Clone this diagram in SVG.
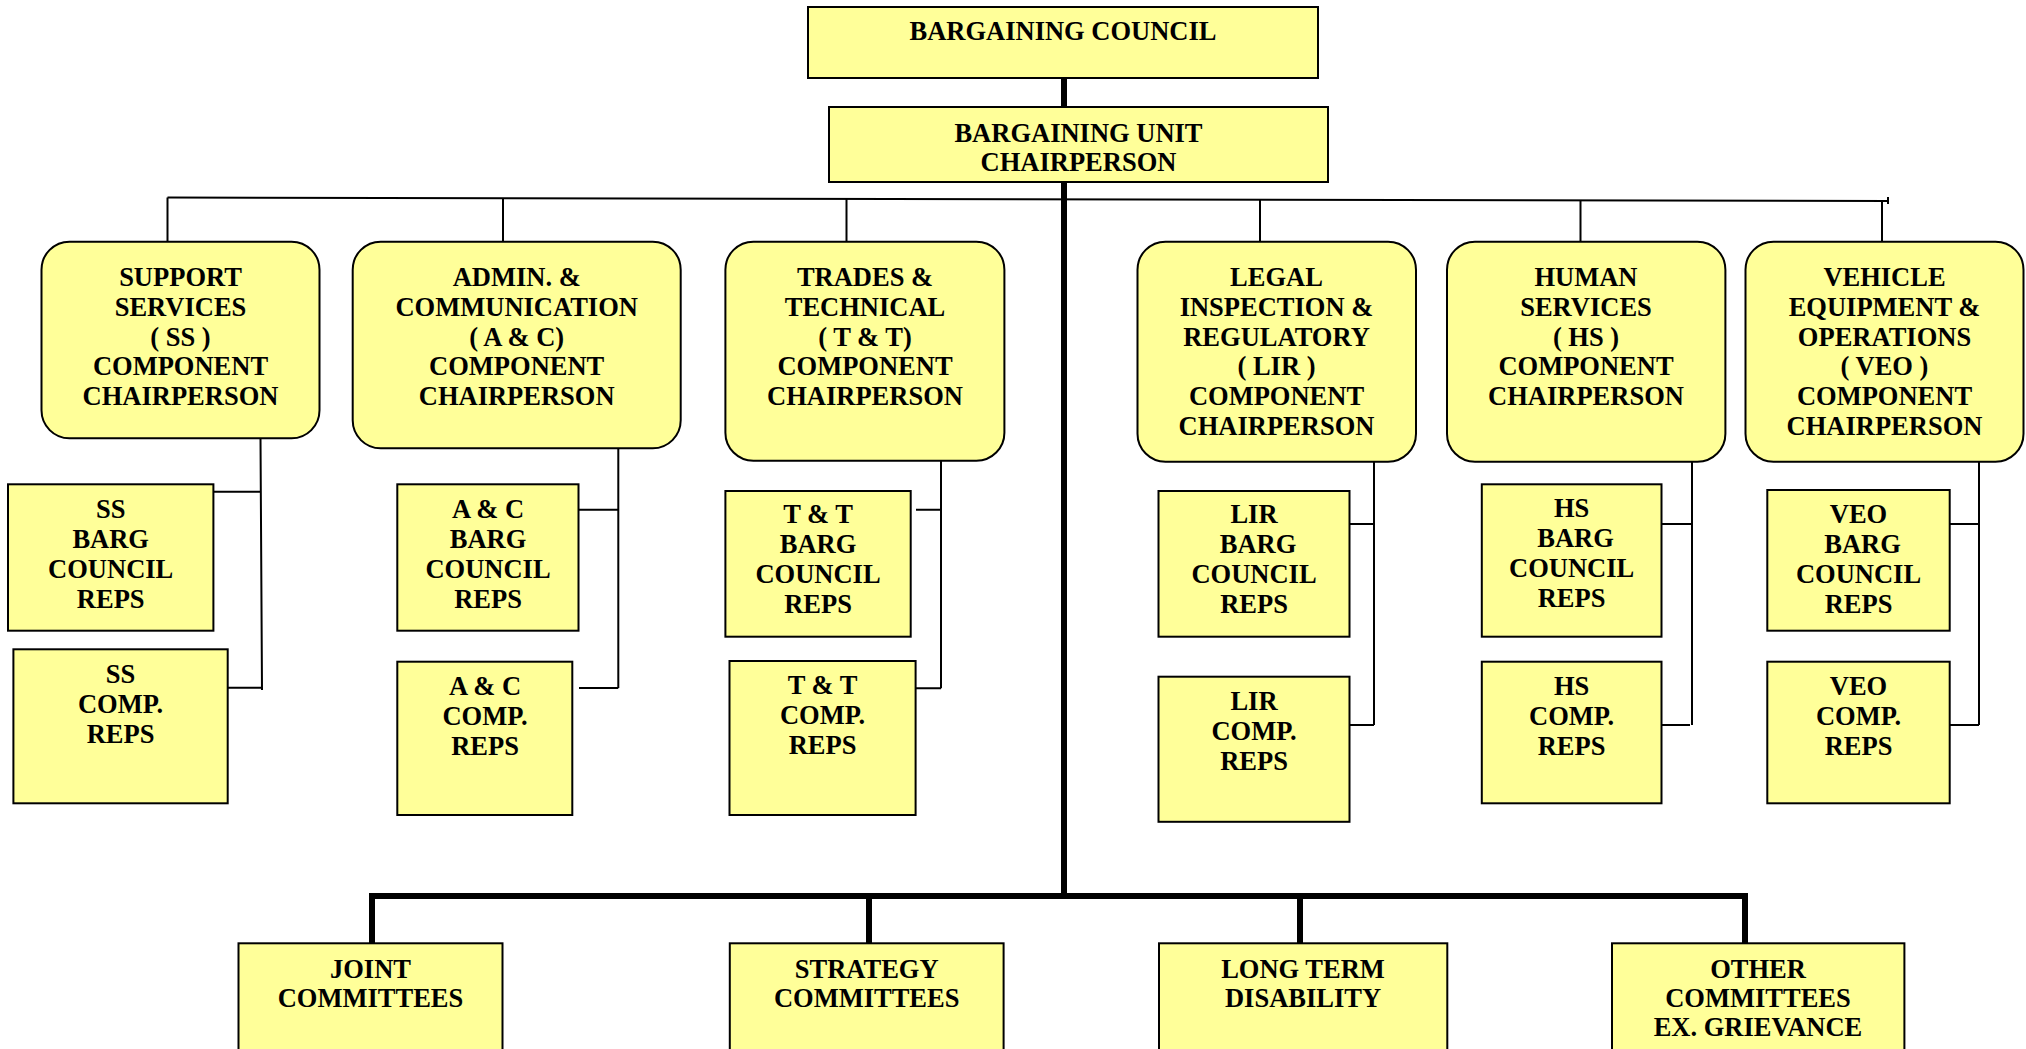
<svg xmlns="http://www.w3.org/2000/svg" width="2026" height="1049" viewBox="0 0 2026 1049">
<style>
.box{fill:#FFFF99;stroke:#000;stroke-width:2}
.t{font-family:"Liberation Serif","Times New Roman",serif;font-weight:bold;font-size:26.5px;text-anchor:middle;fill:#000}
.thin{stroke:#000;stroke-width:2;fill:none}
.thick{stroke:#000;stroke-width:6;fill:none;stroke-linejoin:miter}
</style>
<rect width="2026" height="1049" fill="#fff"/>
<g id="connectors">
<line class="thick" x1="1064" y1="77" x2="1064" y2="896"/>
<path class="thick" d="M372,944 V896 H1745 V944"/>
<line class="thick" x1="869" y1="896" x2="869" y2="944"/>
<line class="thick" x1="1300" y1="896" x2="1300" y2="944"/>
<line class="thin" x1="167.5" y1="197.5" x2="1888" y2="201"/>
<line class="thin" x1="1888" y1="197" x2="1888" y2="204"/>
<line class="thin" x1="167.5" y1="197.5" x2="167.5" y2="242"/>
<line class="thin" x1="503" y1="198" x2="503" y2="242"/>
<line class="thin" x1="846.5" y1="199" x2="846.5" y2="242"/>
<line class="thin" x1="1260" y1="199.5" x2="1260" y2="242"/>
<line class="thin" x1="1580.5" y1="200" x2="1580.5" y2="242"/>
<line class="thin" x1="1882" y1="201" x2="1882" y2="242"/>
<path class="thin" d="M260.5,438 L262,690 M213,491.7 H260.5 M228,687.7 H262"/>
<path class="thin" d="M618.3,448 V688 M578.5,509.7 H618.3 M579,688 H618.3"/>
<path class="thin" d="M941,460.7 V688.3 M916,509.7 H941 M916,688.3 H941"/>
<path class="thin" d="M1374,461.7 V725 M1349.5,524 H1374 M1349.5,725 H1374"/>
<path class="thin" d="M1692,461.7 V725 M1661.5,524 H1692 M1661.5,725 H1690"/>
<path class="thin" d="M1979,461.7 V725 M1949.7,524 H1979 M1949.7,725 H1979"/>
</g>
<g id="bargaining-council">
<rect class="box" x="808" y="7" width="510" height="71"/>
<text class="t" x="1063" y="40">BARGAINING COUNCIL</text>
</g>
<g id="bargaining-unit-chairperson">
<rect class="box" x="829" y="107" width="499" height="75"/>
<text class="t" x="1078.5" y="141.7">BARGAINING UNIT<tspan x="1078.5" dy="29">CHAIRPERSON</tspan></text>
</g>
<g id="ss-chair">
<rect class="box" x="41.5" y="241.7" width="278" height="196.6" rx="28"/>
<text class="t" x="180.5" y="286">SUPPORT<tspan x="180.5" dy="29.8">SERVICES</tspan><tspan x="180.5" dy="29.8">( SS )</tspan><tspan x="180.5" dy="29.8">COMPONENT</tspan><tspan x="180.5" dy="29.8">CHAIRPERSON</tspan></text>
</g>
<g id="ac-chair">
<rect class="box" x="352.7" y="241.7" width="328" height="206.6" rx="28"/>
<text class="t" x="516.7" y="286">ADMIN. &amp;<tspan x="516.7" dy="29.8">COMMUNICATION</tspan><tspan x="516.7" dy="29.8">( A &amp; C)</tspan><tspan x="516.7" dy="29.8">COMPONENT</tspan><tspan x="516.7" dy="29.8">CHAIRPERSON</tspan></text>
</g>
<g id="tt-chair">
<rect class="box" x="725.4" y="241.7" width="279" height="219" rx="28"/>
<text class="t" x="865" y="286">TRADES &amp;<tspan x="865" dy="29.8">TECHNICAL</tspan><tspan x="865" dy="29.8">( T &amp; T)</tspan><tspan x="865" dy="29.8">COMPONENT</tspan><tspan x="865" dy="29.8">CHAIRPERSON</tspan></text>
</g>
<g id="lir-chair">
<rect class="box" x="1137.5" y="241.7" width="278.5" height="220" rx="28"/>
<text class="t" x="1276.5" y="286">LEGAL<tspan x="1276.5" dy="29.8">INSPECTION &amp;</tspan><tspan x="1276.5" dy="29.8">REGULATORY</tspan><tspan x="1276.5" dy="29.8">( LIR )</tspan><tspan x="1276.5" dy="29.8">COMPONENT</tspan><tspan x="1276.5" dy="29.8">CHAIRPERSON</tspan></text>
</g>
<g id="hs-chair">
<rect class="box" x="1447" y="241.7" width="278.4" height="220" rx="28"/>
<text class="t" x="1586" y="286">HUMAN<tspan x="1586" dy="29.8">SERVICES</tspan><tspan x="1586" dy="29.8">( HS )</tspan><tspan x="1586" dy="29.8">COMPONENT</tspan><tspan x="1586" dy="29.8">CHAIRPERSON</tspan></text>
</g>
<g id="veo-chair">
<rect class="box" x="1745.5" y="241.7" width="278" height="220" rx="28"/>
<text class="t" x="1884.5" y="286">VEHICLE<tspan x="1884.5" dy="29.8">EQUIPMENT &amp;</tspan><tspan x="1884.5" dy="29.8">OPERATIONS</tspan><tspan x="1884.5" dy="29.8">( VEO )</tspan><tspan x="1884.5" dy="29.8">COMPONENT</tspan><tspan x="1884.5" dy="29.8">CHAIRPERSON</tspan></text>
</g>
<g id="ss-barg">
<rect class="box" x="8" y="484.3" width="205.4" height="146.4"/>
<text class="t" x="110.7" y="518.3">SS<tspan x="110.7" dy="30">BARG</tspan><tspan x="110.7" dy="30">COUNCIL</tspan><tspan x="110.7" dy="30">REPS</tspan></text>
</g>
<g id="ss-comp">
<rect class="box" x="13.4" y="649.3" width="214.3" height="154"/>
<text class="t" x="120.5" y="683.3">SS<tspan x="120.5" dy="30">COMP.</tspan><tspan x="120.5" dy="30">REPS</tspan></text>
</g>
<g id="ac-barg">
<rect class="box" x="397.3" y="484.3" width="181.2" height="146.4"/>
<text class="t" x="488" y="518">A &amp; C<tspan x="488" dy="30">BARG</tspan><tspan x="488" dy="30">COUNCIL</tspan><tspan x="488" dy="30">REPS</tspan></text>
</g>
<g id="ac-comp">
<rect class="box" x="397.3" y="661.7" width="175" height="153.3"/>
<text class="t" x="485" y="695">A &amp; C<tspan x="485" dy="30">COMP.</tspan><tspan x="485" dy="30">REPS</tspan></text>
</g>
<g id="tt-barg">
<rect class="box" x="725.4" y="491" width="185.3" height="145.7"/>
<text class="t" x="818" y="523.3">T &amp; T<tspan x="818" dy="30">BARG</tspan><tspan x="818" dy="30">COUNCIL</tspan><tspan x="818" dy="30">REPS</tspan></text>
</g>
<g id="tt-comp">
<rect class="box" x="729.5" y="661" width="186.1" height="154"/>
<text class="t" x="822.5" y="694">T &amp; T<tspan x="822.5" dy="30">COMP.</tspan><tspan x="822.5" dy="30">REPS</tspan></text>
</g>
<g id="lir-barg">
<rect class="box" x="1158.5" y="491" width="191" height="145.7"/>
<text class="t" x="1254" y="523">LIR<tspan x="1258" dy="30">BARG</tspan><tspan x="1254" dy="30">COUNCIL</tspan><tspan x="1254" dy="30">REPS</tspan></text>
</g>
<g id="lir-comp">
<rect class="box" x="1158.5" y="676.7" width="191" height="145.1"/>
<text class="t" x="1254" y="710">LIR<tspan x="1254" dy="30">COMP.</tspan><tspan x="1254" dy="30">REPS</tspan></text>
</g>
<g id="hs-barg">
<rect class="box" x="1481.8" y="484.3" width="179.7" height="152.4"/>
<text class="t" x="1571.6" y="517.3">HS<tspan x="1575.6" dy="30">BARG</tspan><tspan x="1571.6" dy="30">COUNCIL</tspan><tspan x="1571.6" dy="30">REPS</tspan></text>
</g>
<g id="hs-comp">
<rect class="box" x="1481.8" y="661.7" width="179.7" height="141.6"/>
<text class="t" x="1571.6" y="695">HS<tspan x="1571.6" dy="30">COMP.</tspan><tspan x="1571.6" dy="30">REPS</tspan></text>
</g>
<g id="veo-barg">
<rect class="box" x="1767.3" y="490" width="182.4" height="140.7"/>
<text class="t" x="1858.5" y="523.3">VEO<tspan x="1862.5" dy="30">BARG</tspan><tspan x="1858.5" dy="30">COUNCIL</tspan><tspan x="1858.5" dy="30">REPS</tspan></text>
</g>
<g id="veo-comp">
<rect class="box" x="1767.3" y="661.7" width="182.4" height="141.6"/>
<text class="t" x="1858.5" y="695">VEO<tspan x="1858.5" dy="30">COMP.</tspan><tspan x="1858.5" dy="30">REPS</tspan></text>
</g>
<g id="joint-committees">
<rect class="box" x="238.5" y="943.3" width="264" height="120"/>
<text class="t" x="370.5" y="978.3">JOINT<tspan x="370.5" dy="29">COMMITTEES</tspan></text>
</g>
<g id="strategy-committees">
<rect class="box" x="729.8" y="943.3" width="273.8" height="120"/>
<text class="t" x="866.7" y="978.3">STRATEGY<tspan x="866.7" dy="29">COMMITTEES</tspan></text>
</g>
<g id="long-term-disability">
<rect class="box" x="1159" y="943.3" width="288.3" height="120"/>
<text class="t" x="1303" y="978.3">LONG TERM<tspan x="1303" dy="29">DISABILITY</tspan></text>
</g>
<g id="other-committees">
<rect class="box" x="1612" y="943.3" width="292.4" height="120"/>
<text class="t" x="1758" y="978.3">OTHER<tspan x="1758" dy="29">COMMITTEES</tspan><tspan x="1758" dy="29">EX. GRIEVANCE</tspan></text>
</g>
</svg>
